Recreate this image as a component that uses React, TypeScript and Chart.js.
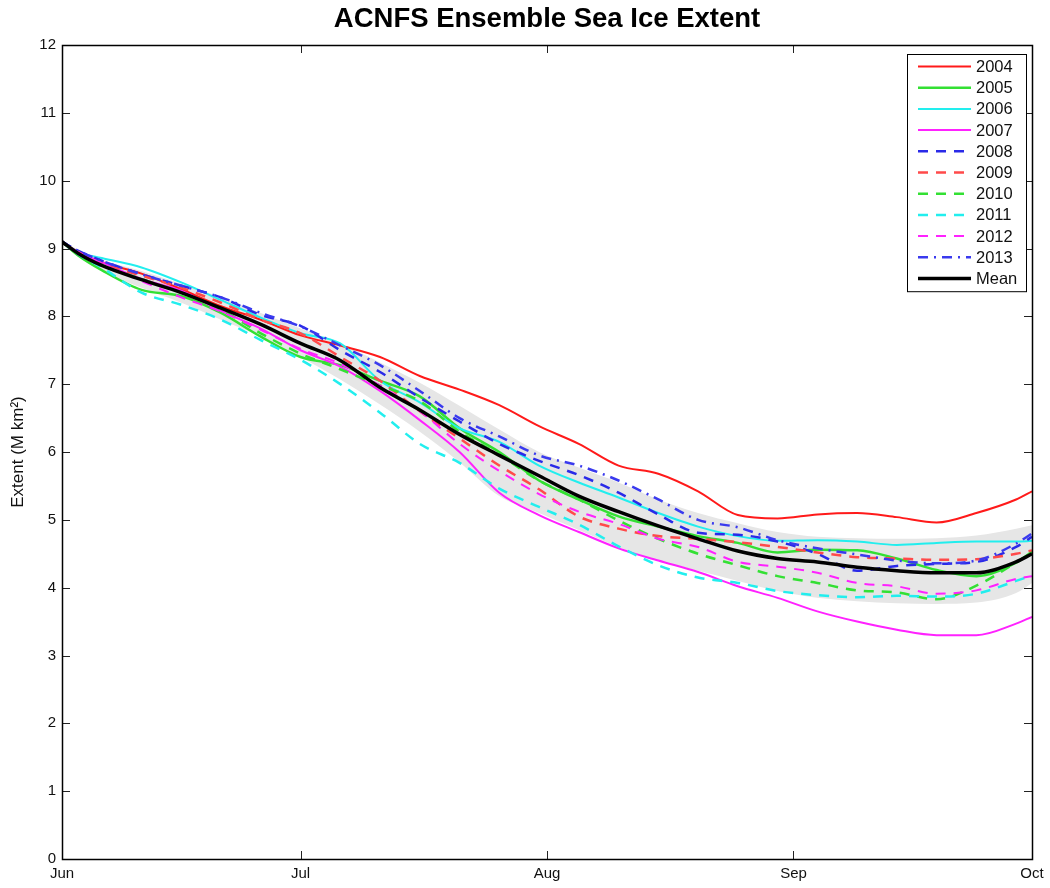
import React, { useEffect, useRef } from 'react';
import { Chart, registerables } from 'chart.js';

Chart.register(...registerables);

// Days since 1 June
const DAYS = [0, 2, 5, 10, 15, 20, 25, 30, 35, 40, 45, 50, 55, 60, 65, 70, 75, 80, 85, 90, 95, 100, 105, 110, 115, 120, 122];
const TICK_DAYS = [0, 30, 61, 92, 122];
const TICK_LABELS = ['Jun', 'Jul', 'Aug', 'Sep', 'Oct'];
const Y_TICKS = [0, 1, 2, 3, 4, 5, 6, 7, 8, 9, 10, 11, 12];
const TITLE = 'ACNFS Ensemble Sea Ice Extent';

const Y2004 = [9.1, 8.95, 8.8, 8.63, 8.4, 8.15, 7.95, 7.72, 7.57, 7.4, 7.12, 6.92, 6.69, 6.38, 6.12, 5.8, 5.68, 5.42, 5.07, 5.02, 5.08, 5.1, 5.04, 4.96, 5.1, 5.3, 5.42];
const Y2005 = [9.1, 8.9, 8.68, 8.39, 8.3, 8.05, 7.7, 7.4, 7.28, 7.05, 6.82, 6.35, 6.0, 5.58, 5.3, 5.05, 4.9, 4.76, 4.66, 4.52, 4.56, 4.55, 4.43, 4.26, 4.17, 4.37, 4.53];
const Y2006 = [9.1, 8.95, 8.86, 8.72, 8.5, 8.24, 7.98, 7.75, 7.6, 7.05, 6.73, 6.35, 6.15, 5.8, 5.55, 5.33, 5.1, 4.9, 4.76, 4.69, 4.7, 4.68, 4.63, 4.66, 4.68, 4.68, 4.69];
const Y2007 = [9.1, 8.95, 8.8, 8.55, 8.38, 8.08, 7.82, 7.5, 7.26, 6.9, 6.47, 6.0, 5.4, 5.07, 4.82, 4.58, 4.4, 4.23, 4.02, 3.85, 3.65, 3.5, 3.38, 3.3, 3.3, 3.47, 3.57];
const Y2008 = [9.1, 8.97, 8.82, 8.62, 8.45, 8.28, 8.02, 7.86, 7.5, 7.18, 6.8, 6.45, 6.12, 5.87, 5.66, 5.4, 5.08, 4.81, 4.78, 4.68, 4.5, 4.25, 4.32, 4.35, 4.38, 4.6, 4.75];
const Y2009 = [9.1, 8.95, 8.78, 8.6, 8.42, 8.2, 7.95, 7.75, 7.4, 7.05, 6.6, 6.2, 5.8, 5.45, 5.05, 4.87, 4.76, 4.72, 4.67, 4.6, 4.52, 4.45, 4.43, 4.41, 4.42, 4.5, 4.55];
const Y2010 = [9.1, 8.93, 8.75, 8.55, 8.35, 8.1, 7.75, 7.45, 7.22, 6.98, 6.75, 6.3, 5.96, 5.58, 5.3, 4.99, 4.72, 4.5, 4.33, 4.17, 4.07, 3.96, 3.93, 3.83, 4.03, 4.37, 4.52];
const Y2011 = [9.1, 8.92, 8.72, 8.35, 8.17, 7.95, 7.65, 7.36, 7.0, 6.58, 6.12, 5.84, 5.46, 5.19, 4.93, 4.61, 4.33, 4.15, 4.07, 3.95, 3.89, 3.86, 3.88, 3.87, 3.91, 4.1, 4.18];
const Y2012 = [9.1, 8.95, 8.78, 8.52, 8.28, 8.07, 7.8, 7.52, 7.3, 6.98, 6.6, 6.12, 5.72, 5.38, 5.12, 4.94, 4.72, 4.6, 4.38, 4.31, 4.22, 4.07, 4.02, 3.91, 3.96, 4.13, 4.17];
const Y2013 = [9.1, 8.97, 8.82, 8.62, 8.45, 8.28, 8.05, 7.85, 7.57, 7.28, 6.9, 6.5, 6.23, 5.95, 5.8, 5.58, 5.3, 5.0, 4.89, 4.7, 4.58, 4.49, 4.4, 4.36, 4.4, 4.65, 4.8];
const YMEAN = [9.1, 8.93, 8.75, 8.54, 8.35, 8.12, 7.88, 7.6, 7.35, 6.95, 6.62, 6.26, 5.95, 5.65, 5.35, 5.12, 4.91, 4.72, 4.54, 4.43, 4.38, 4.3, 4.25, 4.22, 4.22, 4.38, 4.5];
const BAND_UPPER = [9.12, 8.98, 8.83, 8.67, 8.48, 8.28, 8.05, 7.82, 7.6, 7.32, 7.02, 6.68, 6.33, 6.0, 5.77, 5.55, 5.3, 5.1, 4.95, 4.82, 4.75, 4.73, 4.72, 4.73, 4.77, 4.87, 4.92];
const BAND_LOWER = [9.08, 8.88, 8.67, 8.42, 8.2, 7.95, 7.7, 7.4, 7.07, 6.7, 6.3, 5.85, 5.35, 5.1, 4.85, 4.6, 4.4, 4.25, 4.1, 3.95, 3.85, 3.8, 3.77, 3.76, 3.78, 3.92, 4.07];

const SERIES = [
  { label: '2004', values: Y2004, color: '#ff1a1a', dash: [] as number[], width: 2 },
  { label: '2005', values: Y2005, color: '#33e033', dash: [] as number[], width: 2.5 },
  { label: '2006', values: Y2006, color: '#22eeee', dash: [] as number[], width: 2 },
  { label: '2007', values: Y2007, color: '#ff22ff', dash: [] as number[], width: 2 },
  { label: '2008', values: Y2008, color: '#2a2ae8', dash: [10, 8], width: 2.5 },
  { label: '2009', values: Y2009, color: '#ff4a4a', dash: [10, 8], width: 2.5 },
  { label: '2010', values: Y2010, color: '#33e033', dash: [10, 8], width: 2.5 },
  { label: '2011', values: Y2011, color: '#22eeee', dash: [10, 8], width: 2.5 },
  { label: '2012', values: Y2012, color: '#ff22ff', dash: [10, 8], width: 2 },
  { label: '2013', values: Y2013, color: '#3a3aee', dash: [10, 6, 2, 6], width: 2.5 },
  { label: 'Mean', values: YMEAN, color: '#000000', dash: [] as number[], width: 3.5 },
];

const toPoints = (vals: number[]) => DAYS.map((d, i) => ({ x: d, y: vals[i] }));

const FONT = '"Liberation Sans", Arial, Helvetica, sans-serif';

const frameLegendPlugin = {
  id: 'frameLegend',
  afterDatasetsDraw(chart: any) {
    const { ctx, chartArea: a, scales } = chart;
    ctx.save();
    // title centred over plot area
    ctx.fillStyle = '#000';
    ctx.font = `bold 27.5px ${FONT}`;
    ctx.textAlign = 'center';
    ctx.textBaseline = 'middle';
    ctx.fillText(TITLE, (a.left + a.right) / 2, 19);

    ctx.strokeStyle = '#222';
    ctx.lineWidth = 1;
    const tl = 8;
    ctx.beginPath();
    scales.y.ticks.forEach((t: any) => {
      const y = Math.round(scales.y.getPixelForValue(t.value)) + 0.5;
      ctx.moveTo(a.left, y); ctx.lineTo(a.left + tl, y);
      ctx.moveTo(a.right, y); ctx.lineTo(a.right - tl, y);
    });
    scales.x.ticks.forEach((t: any) => {
      const x = Math.round(scales.x.getPixelForValue(t.value)) + 0.5;
      ctx.moveTo(x, a.bottom); ctx.lineTo(x, a.bottom - tl);
      ctx.moveTo(x, a.top); ctx.lineTo(x, a.top + tl);
    });
    ctx.stroke();
    ctx.lineWidth = 1.5;
    ctx.strokeStyle = '#000';
    ctx.strokeRect(Math.round(a.left) + 0.5, Math.round(a.top) + 0.5, Math.round(a.right - a.left), Math.round(a.bottom - a.top));

    // legend
    const items = chart.data.datasets.filter((d: any) => !d.isBand);
    const boxLeft = a.right - 125;
    const boxTop = a.top + 9;
    const rowH = 21.2;
    const boxW = 119;
    const boxH = items.length * rowH + 4;
    ctx.fillStyle = '#fff';
    ctx.fillRect(boxLeft, boxTop, boxW, boxH);
    ctx.lineWidth = 1;
    ctx.strokeStyle = '#000';
    ctx.strokeRect(boxLeft + 0.5, boxTop + 0.5, boxW, boxH);
    ctx.font = `16.5px ${FONT}`;
    ctx.textBaseline = 'middle';
    ctx.textAlign = 'left';
    items.forEach((d: any, i: number) => {
      const y = boxTop + 12.5 + i * rowH;
      ctx.beginPath();
      ctx.strokeStyle = d.borderColor;
      ctx.lineWidth = d.borderWidth;
      ctx.setLineDash(d.borderDash || []);
      ctx.moveTo(boxLeft + 11, y);
      ctx.lineTo(boxLeft + 64, y);
      ctx.stroke();
      ctx.setLineDash([]);
      ctx.fillStyle = '#111';
      ctx.fillText(d.label, boxLeft + 69, y + 1);
    });
    ctx.restore();
  },
};

export default function App() {
  const canvasRef = useRef<HTMLCanvasElement | null>(null);

  useEffect(() => {
    document.body.style.margin = '0';
    if (!canvasRef.current) return;
    Chart.defaults.font.family = FONT;
    Chart.defaults.color = '#000';

    const datasets: any[] = [
      {
        label: 'upper', isBand: true, data: toPoints(BAND_UPPER), borderWidth: 0,
        pointRadius: 0, backgroundColor: '#e6e6e6', fill: '+1', order: 100,
        cubicInterpolationMode: 'monotone',
      },
      {
        label: 'lower', isBand: true, data: toPoints(BAND_LOWER), borderWidth: 0,
        pointRadius: 0, backgroundColor: '#e6e6e6', fill: false, order: 101,
        cubicInterpolationMode: 'monotone',
      },
      ...SERIES.map((s, i) => ({
        label: s.label,
        data: toPoints(s.values),
        borderColor: s.color,
        backgroundColor: s.color,
        borderWidth: s.width,
        borderDash: s.dash,
        pointRadius: 0,
        fill: false,
        cubicInterpolationMode: 'monotone',
        order: 50 - i,
      })),
    ];

    const chart = new Chart(canvasRef.current, {
      type: 'line',
      data: { datasets },
      plugins: [frameLegendPlugin],
      options: {
        animation: false,
        responsive: true,
        maintainAspectRatio: false,
        layout: { padding: { left: 0, right: 18, top: 45, bottom: 0 } },
        plugins: {
          legend: { display: false },
          tooltip: { enabled: false },
          filler: { drawTime: 'beforeDatasetsDraw' },
          title: { display: false },
        },
        scales: {
          x: {
            type: 'linear',
            min: 0,
            max: 122,
            afterBuildTicks: (s: any) => { s.ticks = TICK_DAYS.map((v) => ({ value: v })); },
            afterFit: (s: any) => { s.height = 29; },
            ticks: {
              autoSkip: false,
              maxRotation: 0,
              padding: 6,
              font: { size: 15 },
              color: '#111',
              callback: (v: any) => TICK_LABELS[TICK_DAYS.indexOf(Number(v))],
            },
            grid: { display: false, drawTicks: false },
            border: { display: false },
          },
          y: {
            type: 'linear',
            min: 0,
            max: 12,
            afterBuildTicks: (s: any) => { s.ticks = Y_TICKS.map((v) => ({ value: v })); },
            afterFit: (s: any) => { s.width = 62; },
            ticks: { padding: 6, font: { size: 15 }, color: '#111' },
            grid: { display: false, drawTicks: false },
            border: { display: false },
            title: {
              display: true,
              text: 'Extent (M km²)',
              font: { size: 17 },
              color: '#111',
              padding: { top: 8, bottom: 0 },
            },
          },
        },
      } as any,
    });
    return () => chart.destroy();
  }, []);

  return (
    <div style={{ width: 1050, height: 888, position: 'relative', background: '#fff' }}>
      <canvas ref={canvasRef} />
    </div>
  );
}
